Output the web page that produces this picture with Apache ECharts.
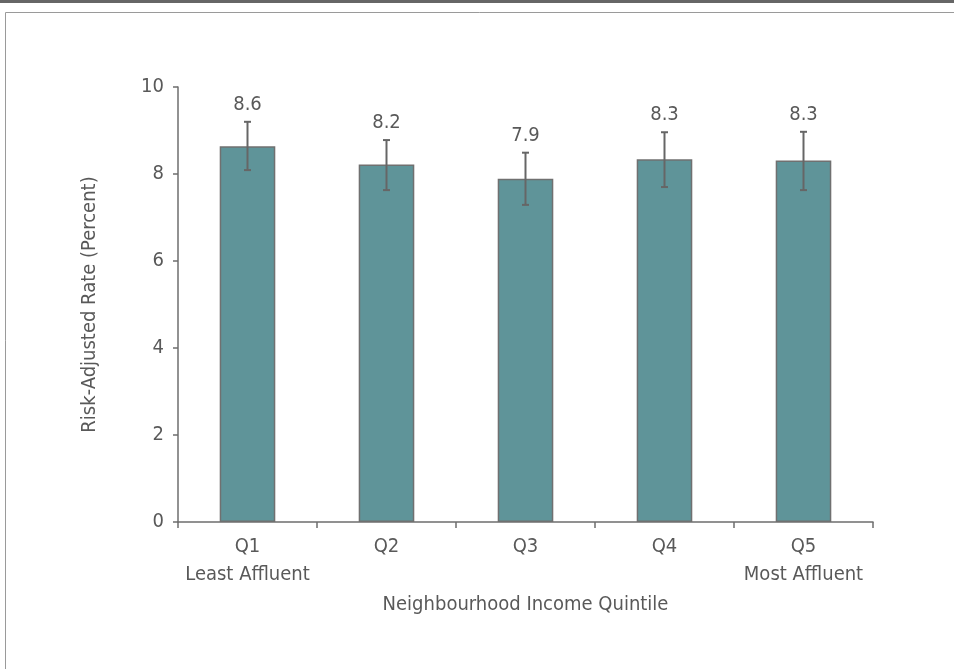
<!DOCTYPE html>
<html>
<head>
<meta charset="utf-8">
<script src="https://cdn.jsdelivr.net/npm/echarts@6/dist/echarts.min.js"></script>
<style>
html,body{margin:0;padding:0;background:#fff;}
#chart{width:954px;height:669px;}
</style>
</head>
<body>
<div id="chart"></div>
<script>
var categories = ['Q1\nLeast Affluent', 'Q2', 'Q3', 'Q4', 'Q5\nMost Affluent'];
var rates = [8.64, 8.22, 7.89, 8.34, 8.31];
var rateLabels = ['8.6', '8.2', '7.9', '8.3', '8.3'];
var ciLower = [8.09, 7.63, 7.29, 7.70, 7.63];
var ciUpper = [9.20, 8.78, 8.49, 8.96, 8.97];
var yTicks = [0, 2, 4, 6, 8, 10];

var FONT = '"Liberation Sans Narrow", "DejaVu Sans Condensed", "Roboto", sans-serif';
var TEXT = '#595959';
var AXIS = '#6e6e6e';

var errData = categories.map(function (c, i) { return [i, ciLower[i], ciUpper[i], rateLabels[i]]; });

var chart = echarts.init(document.getElementById('chart'));
chart.setOption({
  animation: false,
  backgroundColor: '#fff',
  graphic: [
    { type: 'rect', shape: { x: 0, y: 0, width: 954, height: 3 }, style: { fill: '#666' }, silent: true },
    { type: 'polyline', shape: { points: [[5.5, 669], [5.5, 12.5], [954, 12.5]] }, style: { stroke: '#9a9a9a', lineWidth: 1, fill: null }, silent: true }
  ],
  grid: { left: 178, right: 81, top: 87, bottom: 147, containLabel: false },
  xAxis: {
    type: 'category',
    data: categories,
    name: 'Neighbourhood Income Quintile',
    nameLocation: 'middle',
    nameGap: 73,
    nameTextStyle: { color: TEXT, fontFamily: FONT, fontSize: 20 },
    axisLine: { show: true, lineStyle: { color: AXIS, width: 1.5 } },
    axisTick: { show: true, length: 6, alignWithLabel: false, lineStyle: { color: AXIS, width: 1.5 } },
    axisLabel: { color: TEXT, fontFamily: FONT, fontSize: 20, lineHeight: 28, margin: 11, interval: 0 },
    splitLine: { show: false }
  },
  yAxis: {
    type: 'value',
    min: 0, max: 10, interval: 2,
    name: 'Risk-Adjusted Rate (Percent)',
    nameLocation: 'middle',
    nameGap: 78,
    nameRotate: 90,
    nameTextStyle: { color: TEXT, fontFamily: FONT, fontSize: 20 },
    axisLine: { show: true, lineStyle: { color: AXIS, width: 1.5 } },
    axisTick: { show: true, length: 5, lineStyle: { color: AXIS, width: 1.5 } },
    axisLabel: { color: TEXT, fontFamily: FONT, fontSize: 20, margin: 14,
      formatter: function (v) { return yTicks.indexOf(v) >= 0 ? String(v) : ''; } },
    splitLine: { show: false }
  },
  series: [
    {
      type: 'bar',
      data: rates,
      barWidth: '40%',
      itemStyle: { color: '#5f9499', borderColor: '#707070', borderWidth: 1.5 }
    },
    {
      type: 'custom',
      data: errData,
      z: 10,
      renderItem: function (params, api) {
        var x = api.value(0);
        var lo = api.coord([x, api.value(1)]);
        var hi = api.coord([x, api.value(2)]);
        var cap = 3.5;
        var style = { stroke: '#666', lineWidth: 2 };
        return {
          type: 'group',
          children: [
            { type: 'line', shape: { x1: hi[0], y1: hi[1], x2: lo[0], y2: lo[1] }, style: style },
            { type: 'line', shape: { x1: hi[0] - cap, y1: hi[1], x2: hi[0] + cap, y2: hi[1] }, style: style },
            { type: 'line', shape: { x1: lo[0] - cap, y1: lo[1], x2: lo[0] + cap, y2: lo[1] }, style: style },
            { type: 'text', x: hi[0], y: hi[1] - 17,
              style: { text: rateLabels[params.dataIndex], fill: TEXT, font: '20px ' + FONT, align: 'center', verticalAlign: 'middle' } }
          ]
        };
      }
    }
  ]
});
</script>
</body>
</html>
